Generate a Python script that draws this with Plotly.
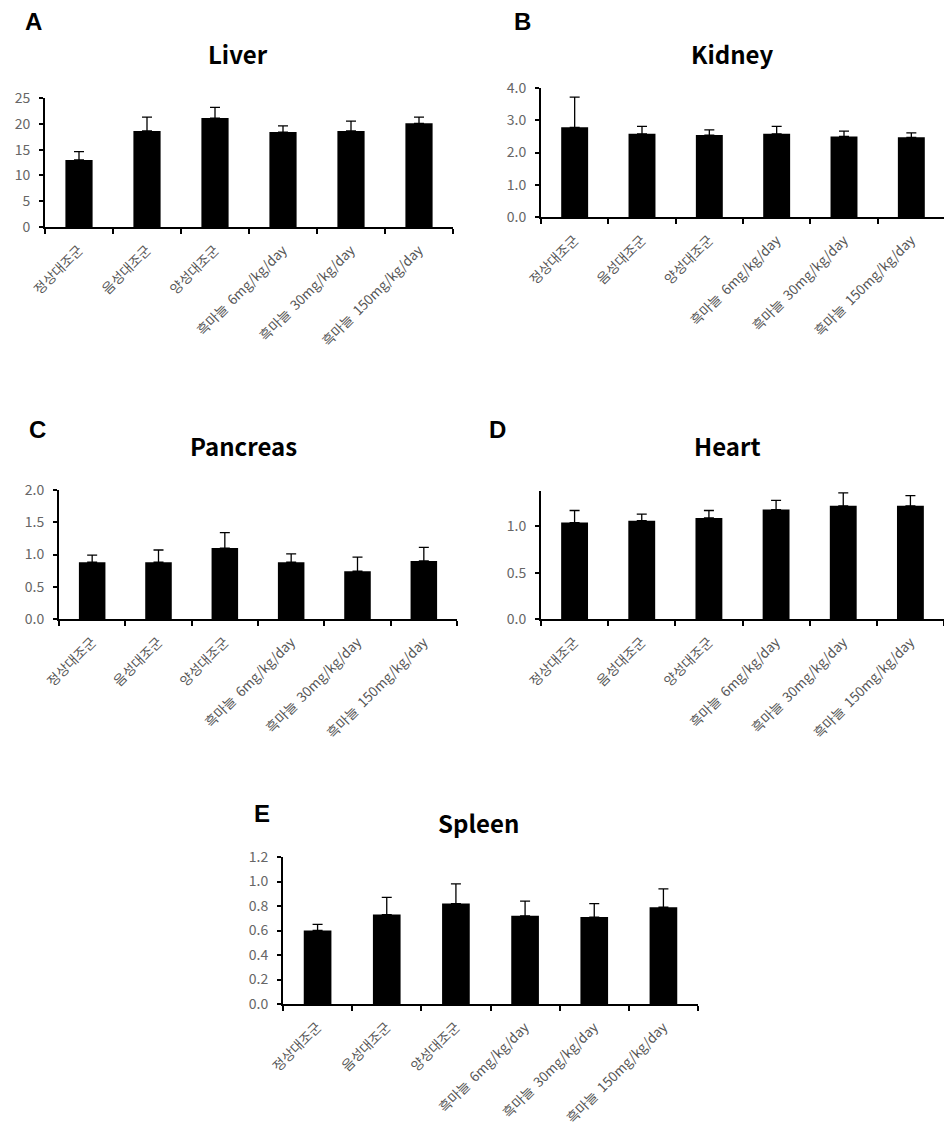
import plotly.graph_objects as go

categories = ["정상대조군", "음성대조군", "양성대조군",
              "흑마늘  6mg/kg/day", "흑마늘  30mg/kg/day", "흑마늘  150mg/kg/day"]

liver_mean = [13.0, 18.6, 21.1, 18.4, 18.6, 20.1]
liver_err = [1.6, 2.7, 2.1, 1.2, 1.9, 1.2]

kidney_mean = [2.78, 2.58, 2.54, 2.58, 2.50, 2.47]
kidney_err = [0.94, 0.23, 0.16, 0.23, 0.16, 0.14]

pancreas_mean = [0.88, 0.88, 1.10, 0.88, 0.74, 0.90]
pancreas_err = [0.11, 0.19, 0.24, 0.13, 0.22, 0.21]

heart_mean = [1.04, 1.06, 1.09, 1.18, 1.22, 1.22]
heart_err = [0.13, 0.07, 0.08, 0.10, 0.14, 0.11]

spleen_mean = [0.60, 0.73, 0.82, 0.72, 0.71, 0.79]
spleen_err = [0.05, 0.14, 0.16, 0.12, 0.11, 0.15]

panels = [
    # letter, title, means, errs, yrange, dtick, tickformat, px box (x0, x1, ytop, ybottom), title pos, letter pos
    ("A", "Liver", liver_mean, liver_err, [0, 25], 5, "d", (45, 453, 98, 227), (238, 53), (33, 22)),
    ("B", "Kidney", kidney_mean, kidney_err, [0, 4], 1, ".1f", (541, 945, 88, 217), (732, 53), (522, 22)),
    ("C", "Pancreas", pancreas_mean, pancreas_err, [0, 2], 0.5, ".1f", (59, 457, 490, 619), (243, 445), (37, 429)),
    ("D", "Heart", heart_mean, heart_err, [0, 1.38], 0.5, ".1f", (541, 944, 491, 619), (727, 445), (498, 429)),
    ("E", "Spleen", spleen_mean, spleen_err, [0, 1.2], 0.2, ".1f", (283, 698, 857, 1004), (478, 822), (262, 813)),
]

# page body has an 8px default margin; the figure is drawn slightly smaller and shifted
OFF = 8
W, H = 952 - OFF, 1145 - OFF


def px_x(v):
    return (v - OFF) / W


def px_y(v):
    return 1 - (v - OFF) / H


fig = go.Figure()
annotations = []
layout = {}

for i, (letter, title, means, errs, yr, dt, tf, box, tpos, lpos) in enumerate(panels):
    n = "" if i == 0 else str(i + 1)
    x0, x1, yt, yb = box
    fig.add_trace(go.Bar(
        x=categories, y=means,
        xaxis="x" + n, yaxis="y" + n,
        marker=dict(color="black", line=dict(width=0)),
        width=0.4,
        error_y=dict(type="data", array=errs, arrayminus=[0] * len(errs), symmetric=False,
                     color="black", thickness=1.3, width=5),
        showlegend=False,
    ))
    layout["xaxis" + n] = dict(
        domain=[px_x(x0), px_x(x1)], anchor="y" + n,
        type="category", range=[-0.5, 5.5], automargin=False,
        tickson="boundaries", ticks="outside", ticklen=5, tickwidth=1.5, tickcolor="black",
        showline=True, linecolor="black", linewidth=2,
        tickangle=-45, ticklabelstandoff=8,
        tickfont=dict(family="Noto Sans CJK KR", size=13.5, color="#555555"),
        showgrid=False, zeroline=False, fixedrange=True,
    )
    layout["yaxis" + n] = dict(
        domain=[px_y(yb), px_y(yt)], anchor="x" + n, automargin=False,
        range=yr, dtick=dt, tick0=0, tickformat=tf,
        ticks="outside", ticklen=4, tickwidth=1.5, tickcolor="black",
        showline=True, linecolor="black", linewidth=2, ticklabelstandoff=6,
        tickfont=dict(family="Noto Sans CJK KR", size=14, color="#666666"),
        showgrid=False, zeroline=False, fixedrange=True,
    )
    annotations.append(dict(text="<b>" + title + "</b>", x=px_x(tpos[0]), y=px_y(tpos[1]),
                            xref="paper", yref="paper", showarrow=False,
                            xanchor="center", yanchor="middle",
                            font=dict(family="Noto Sans CJK KR", size=24, color="black")))
    annotations.append(dict(text="<b>" + letter + "</b>", x=px_x(lpos[0]), y=px_y(lpos[1]),
                            xref="paper", yref="paper", showarrow=False,
                            xanchor="center", yanchor="middle",
                            font=dict(family="Liberation Sans", size=24, color="black")))

fig.update_layout(
    width=W, height=H,
    margin=dict(l=0, r=0, t=0, b=0),
    paper_bgcolor="white", plot_bgcolor="white",
    annotations=annotations,
    **layout,
)

fig.write_html("out.html")
